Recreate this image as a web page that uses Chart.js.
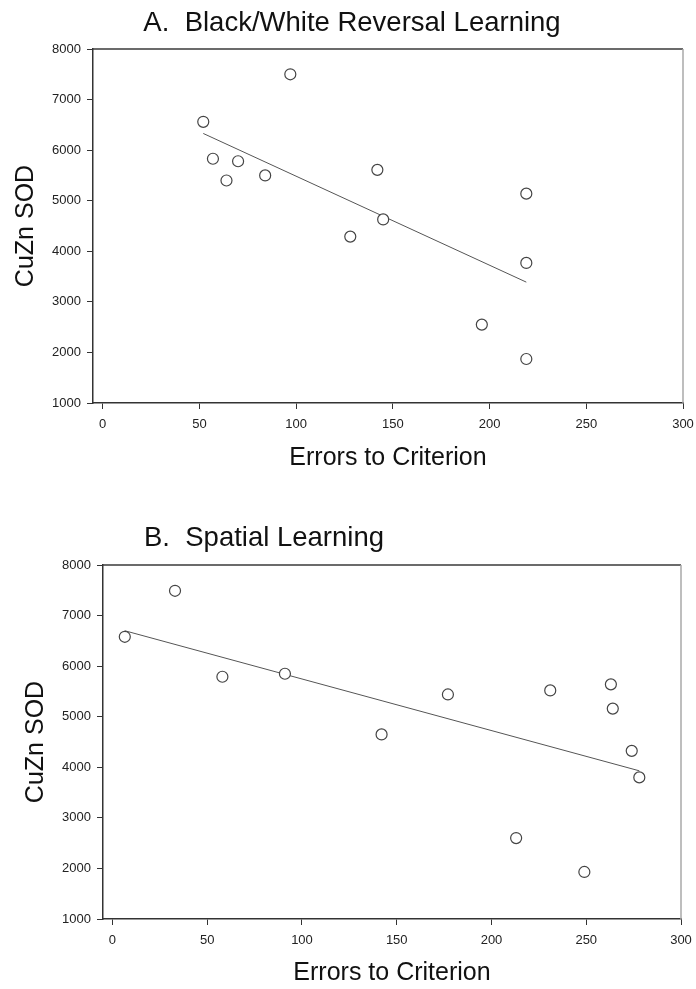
<!DOCTYPE html>
<html><head><meta charset="utf-8">
<script src="https://cdn.jsdelivr.net/npm/chart.js@4.4.1/dist/chart.umd.min.js"></script>
<style>
html,body{margin:0;padding:0;background:#fff;}
#wrap{position:relative;width:696px;height:989px;overflow:hidden;}
canvas{position:absolute;left:0;}
</style></head><body>
<div id="wrap">
<canvas id="cA" width="696" height="480" style="top:0"></canvas>
<canvas id="cB" width="696" height="509" style="top:480px"></canvas>
</div>
<script>
// ---- data ----
const xTickValues = [0, 50, 100, 150, 200, 250, 300];
const yTickValues = [1000, 2000, 3000, 4000, 5000, 6000, 7000, 8000];
const titleA = "A.  Black/White Reversal Learning";
const titleB = "B.  Spatial Learning";
const xAxisTitle = "Errors to Criterion";
const yAxisTitle = "CuZn SOD";

const errorsA = [52, 97, 57, 70, 64, 84, 142, 145, 128, 219, 219, 196, 219];
const sodA    = [6560, 7500, 5830, 5780, 5400, 5500, 5610, 4630, 4290, 5140, 3770, 2550, 1870];
const fitA_x  = [52, 219];
const fitA_y  = [6330, 3390];

const errorsB = [6.5, 33, 58, 91, 142, 177, 231, 263, 264, 274, 278, 213, 249];
const sodB    = [6580, 7490, 5790, 5850, 4650, 5440, 5520, 5640, 5160, 4325, 3800, 2600, 1930];
const fitB_x  = [6.5, 278];
const fitB_y  = [6700, 3930];

// ---- drawing ----
const FAMILY = '"Liberation Sans", Arial, Helvetica, sans-serif';

const framePlugin = {
  id: 'frame',
  afterDraw(chart, args, opts) {
    const {ctx, chartArea: {left, top, right, bottom}} = chart;
    ctx.save();
    ctx.strokeStyle = '#3a3a3a'; ctx.lineWidth = 1.5;
    ctx.beginPath(); ctx.moveTo(left, top); ctx.lineTo(right, top); ctx.stroke();
    ctx.strokeStyle = '#a8a8a8'; ctx.lineWidth = 1.5;
    ctx.beginPath(); ctx.moveTo(right, top); ctx.lineTo(right, bottom); ctx.stroke();
    ctx.fillStyle = '#111';
    ctx.font = '27.5px ' + FAMILY;
    ctx.textAlign = 'center';
    ctx.textBaseline = 'alphabetic';
    ctx.fillText(opts.text, opts.x, opts.y);
    ctx.restore();
  }
};

function makeChart(id, xs, ys, fx, fy, cfg) {
  const pts = xs.map((x, i) => ({x: x, y: ys[i]}));
  const fit = fx.map((x, i) => ({x: x, y: fy[i]}));
  return new Chart(document.getElementById(id), {
    type: 'scatter',
    data: {datasets: [
      {data: fit, showLine: true, pointRadius: 0, borderColor: '#555', borderWidth: 1, order: 2},
      {data: pts, pointRadius: 5.5, pointBorderWidth: 1.2, pointBorderColor: '#444',
       pointBackgroundColor: '#fff', order: 1}
    ]},
    options: {
      responsive: false, animation: false, devicePixelRatio: 1,
      layout: {padding: {left: 0, right: cfg.padRight, top: cfg.padTop, bottom: cfg.padBottom}, autoPadding: false},
      plugins: {
        legend: {display: false}, tooltip: {enabled: false}, title: {display: false},
        frame: {text: cfg.title, x: cfg.titleX, y: cfg.titleY}
      },
      scales: {
        x: {
          type: 'linear', position: 'bottom', min: -5, max: 300,
          afterBuildTicks: s => { s.ticks = xTickValues.map(v => ({value: v})); },
          afterFit: s => { s.height = cfg.xH; s.paddingLeft = 0; s.paddingRight = 0; },
          grid: {drawOnChartArea: false, drawTicks: true, tickLength: 6, color: '#333', lineWidth: 1},
          border: {display: true, color: '#333', width: 1.5},
          ticks: {padding: 8, color: '#222', font: {family: FAMILY, size: 13}, maxRotation: 0, autoSkip: false,
                  callback: v => String(v)},
          title: {display: true, text: xAxisTitle, color: '#111', font: {family: FAMILY, size: 25}, padding: {top: 0, bottom: 0}}
        },
        y: {
          type: 'linear', position: 'left', min: 1000, max: 8000,
          afterBuildTicks: s => { s.ticks = yTickValues.map(v => ({value: v})); },
          afterFit: s => { s.width = cfg.yW; s.paddingTop = 0; s.paddingBottom = 0; },
          grid: {drawOnChartArea: false, drawTicks: true, tickLength: 6, color: '#333', lineWidth: 1},
          border: {display: true, color: '#333', width: 1.5},
          ticks: {padding: 6, color: '#222', font: {family: FAMILY, size: 13}, autoSkip: false,
                  callback: v => String(v)},
          title: {display: true, text: yAxisTitle, color: '#111', font: {family: FAMILY, size: 25}, padding: {top: cfg.yTitlePad, bottom: 0}}
        }
      }
    },
    plugins: [framePlugin]
  });
}

makeChart('cA', errorsA, sodA, fitA_x, fitA_y,
  {padTop: 49, padRight: 13, padBottom: 7, xH: 70, yW: 93, yTitlePad: 11, title: titleA, titleX: 352, titleY: 31});
makeChart('cB', errorsB, sodB, fitB_x, fitB_y,
  {padTop: 85, padRight: 15, padBottom: 1, xH: 69, yW: 103, yTitlePad: 21, title: titleB, titleX: 264, titleY: 66});
</script>
</body></html>
